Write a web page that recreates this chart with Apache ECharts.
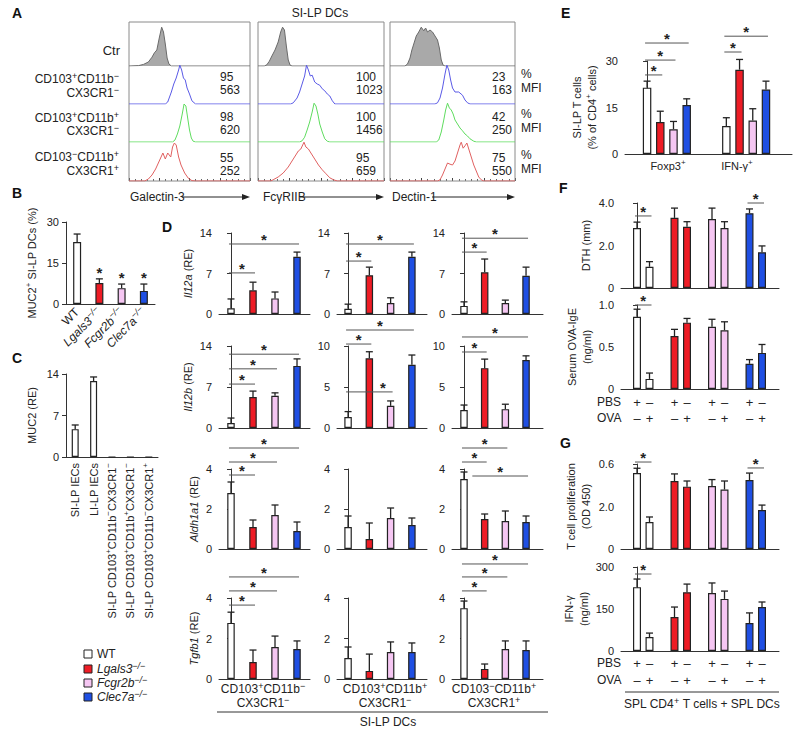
<!DOCTYPE html>
<html><head><meta charset="utf-8">
<script src="https://cdn.jsdelivr.net/npm/echarts@6/dist/echarts.min.js"></script>
<style>html,body{margin:0;padding:0;background:#fff}#c{width:800px;height:734px}</style>
</head><body><div id="c"></div>
<script>
// ================= DATA =================
const genotypes = ['WT', 'Lgals3', 'Fcgr2b', 'Clec7a'];
// Panel A: flow histograms, [x (0-100 across box), relative count]
const histGal3 = [
  [[0,0],[8,0.01],[12,0.04],[16,0.1],[19,0.22],[21,0.33],[23,0.4],[25,0.7],[27,0.97],[28.5,0.85],[30,0.55],[31.5,0.2],[33,0.05],[35,0],[100,0]],
  [[0,0],[30,0],[32,0.05],[35,0.3],[37,0.5],[39,0.65],[41,0.85],[42,0.97],[43.5,0.85],[45,0.65],[46.5,0.6],[48,0.4],[50,0.25],[52,0.08],[55,0],[100,0]],
  [[0,0],[36,0],[38,0.05],[40,0.2],[42,0.4],[44,0.7],[45.5,0.95],[47,0.9],[48.5,0.6],[50,0.3],[51.5,0.1],[53,0.02],[55,0],[100,0]],
  [[0,0],[13,0],[16,0.05],[19,0.15],[22,0.3],[25,0.5],[28,0.7],[30,0.55],[32,0.7],[34.5,0.6],[36,0.85],[37.5,0.95],[39,0.9],[41,0.6],[43,0.4],[46,0.2],[49,0.07],[52,0.01],[55,0],[100,0]]
];
const histFcgr = [
  [[0,0],[5,0],[7,0.03],[9,0.12],[11,0.25],[13.5,0.4],[16,0.6],[18,0.85],[19.5,0.97],[21,0.9],[22.5,0.5],[24,0.15],[25.5,0.02],[27,0],[100,0]],
  [[0,0],[26,0],[28,0.03],[31,0.15],[33,0.3],[35,0.5],[37,0.7],[38.5,0.97],[40,0.85],[41.5,0.7],[43,0.72],[45,0.55],[47,0.5],[49,0.47],[51,0.38],[53,0.33],[55,0.25],[57,0.2],[59,0.08],[61,0],[100,0]],
  [[0,0],[33,0],[35,0.03],[37,0.12],[39,0.3],[41,0.5],[43,0.75],[44.5,0.97],[46,0.9],[47.5,0.7],[49,0.45],[51,0.25],[53,0.08],[55,0.02],[57,0],[100,0]],
  [[0,0],[10,0],[12,0.03],[16,0.1],[20,0.2],[24,0.35],[27,0.5],[30,0.65],[32,0.75],[34,0.8],[36.5,0.97],[38,0.85],[40,0.8],[42,0.7],[44,0.6],[46,0.5],[48,0.4],[51,0.28],[54,0.18],[57,0.08],[60,0.03],[63,0],[100,0]]
];
const histDectin = [
  [[0,0],[12,0],[14,0.05],[16,0.2],[17.5,0.4],[19,0.55],[21,0.75],[23,0.85],[25,0.97],[27,0.88],[28.5,0.95],[30,0.85],[32,0.9],[34,0.85],[36,0.75],[38,0.65],[39.5,0.45],[41,0.15],[42.5,0.02],[44,0],[100,0]],
  [[0,0],[36,0],[38,0.03],[40,0.15],[42,0.4],[44,0.75],[45.5,0.97],[47,0.85],[48.5,0.6],[50,0.4],[52,0.3],[55,0.3],[58,0.22],[60,0.1],[62,0.03],[64,0],[100,0]],
  [[0,0],[37,0],[39,0.05],[41,0.25],[43,0.55],[44.5,0.8],[46,0.97],[47.5,0.85],[49,0.8],[50.5,0.7],[52,0.55],[54,0.45],[56,0.35],[58,0.28],[60,0.2],[62,0.15],[64,0.08],[67,0.02],[69,0],[100,0]],
  [[0,0],[38,0],[40,0.03],[42,0.15],[44,0.3],[46,0.45],[48,0.42],[50,0.4],[52,0.5],[54,0.7],[56,0.9],[57,0.97],[58.5,0.82],[60,0.88],[61.5,0.95],[63,0.8],[65,0.6],[67,0.4],[69,0.25],[71,0.1],[73,0.03],[75,0],[100,0]]
];
const aPercent = [[95, 100, 23], [98, 100, 42], [55, 95, 75]];
const aMFI = [[563, 1023, 163], [620, 1456, 250], [252, 659, 550]];
const aMarkers = ['Galectin-3', 'FcγRIIB', 'Dectin-1'];

// Panel B
const bCategories = ['{n|WT}', '{i|Lgals3}{is|−/−}', '{i|Fcgr2b}{is|−/−}', '{i|Clec7a}{is|−/−}'];
const bValues = [22.7, 7.7, 5.8, 4.8];
const bErrTop = [25.6, 9.2, 7.3, 7.3];
const bStars = [1, 2, 3];

// Panel C
const cCategories = ['{n|SI-LP IECs}', '{n|LI-LP IECs}',
  '{n|SI-LP CD103}{s|+}{n|CD11b}{s|−}{n|CX3CR1}{s|−}',
  '{n|SI-LP CD103}{s|+}{n|CD11b}{s|+}{n|CX3CR1}{s|−}',
  '{n|SI-LP CD103}{s|+}{n|CD11b}{s|−}{n|CX3CR1}{s|+}'];
const cValues = [4.7, 12.8, 0, 0, 0];
const cErrTop = [5.4, 13.5, 0, 0, 0];

// Panel D: [column][genotype]
const dIl12a = [[1.0, 4.1, 2.7, 9.9], [0.9, 6.7, 1.9, 9.9], [1.4, 7.2, 1.9, 6.6]];
const dIl12aTop = [[2.6, 5.5, 3.8, 10.7], [1.7, 8.1, 2.8, 10.7], [2.1, 9.5, 2.4, 8.1]];
const dIl12b = [[0.85, 5.3, 5.5, 10.6], [1.35, 8.5, 2.7, 7.7], [2.2, 7.3, 2.3, 8.3]];
const dIl12bTop = [[1.7, 6.3, 6.0, 11.8], [2.0, 9.3, 3.3, 8.9], [2.8, 8.4, 2.9, 8.8]];
const dAldh = [[2.8, 1.1, 1.7, 0.9], [1.1, 0.5, 1.55, 1.2], [3.5, 1.5, 1.4, 1.35]];
const dAldhTop = [[3.35, 1.45, 2.2, 1.35], [1.65, 1.3, 2.05, 1.55], [3.85, 1.75, 1.9, 1.65]];
const dTgfb = [[2.77, 0.84, 1.58, 1.48], [1.04, 0.4, 1.33, 1.33], [3.5, 0.5, 1.48, 1.43]];
const dTgfbTop = [[3.3, 1.43, 2.12, 1.88], [1.58, 1.23, 1.83, 1.78], [3.85, 0.74, 1.88, 1.88]];
// significance bars: [from, to, height, starX?]
const dIl12aSig = [[[0,1,7.1],[0,3,12.1]], [[0,1,9.15],[0,3,12.1]], [[0,1,10.7],[0,3,13.1]]];
const dIl12bSig = [[[0,1,7.5],[0,2,10.1],[0,3,12.6]], [[0,1,10.24],[0,2,4.4,1.64],[0,3,11.95]], [[0,1,9.27],[0,3,11.1]]];
const dAldhSig = [[[0,1,3.7],[0,2,4.35],[0,3,5.05]], [], [[0,1,4.35],[0,2,5.05],[0.5,3.2,3.65]]];
const dTgfbSig = [[[0,1,3.65],[0,2,4.35],[0,3,5.04]], [], [[0,1,4.35],[0,2,5.04],[0,3,5.68]]];
const dColumns = ['{n|CD103}{s|+}{n|CD11b}{s|−}\n{n|CX3CR1}{s|−}', '{n|CD103}{s|+}{n|CD11b}{s|+}\n{n|CX3CR1}{s|−}', '{n|CD103}{s|−}{n|CD11b}{s|+}\n{n|CX3CR1}{s|+}'];
const dGenes = ['Il12a', 'Il12b', 'Aldh1a1', 'Tgfb1'];

// Panel E: Foxp3+ then IFN-g+, genotypes in order
const eCategories = ['{n|Foxp3}{s|+}', '{n|IFN-γ}{s|+}'];
const eValues = [21.4, 10.3, 8.0, 15.8, 9.0, 27.2, 10.8, 20.8];
const eErrTop = [23.5, 13.8, 10.5, 17.8, 11.7, 30.5, 14.6, 23.5];
const eSig = [[0,1,25.5],[0,2,30.3],[0,3,35.8],[4,5,32.9],[4,7,38.0]];

// Panel F / G: per genotype PBS, OVA
const fPBS = ['+', '–', '+', '–', '+', '–', '+', '–'];
const fOVA = ['–', '+', '–', '+', '–', '+', '–', '+'];
const fDTH = [2.82, 1.0, 3.3, 2.88, 3.25, 2.82, 3.52, 1.68];
const fDTHTop = [3.1, 1.24, 3.76, 3.12, 3.76, 3.12, 3.72, 1.98];
const fDTHSig = [[0,1,3.39],[6,7,4.0]];
const fIgE = [0.86, 0.12, 0.63, 0.79, 0.74, 0.70, 0.30, 0.43];
const fIgETop = [0.95, 0.19, 0.71, 0.84, 0.83, 0.80, 0.35, 0.53];
const fIgESig = [[0,1,1.0]];
const gProlif = [0.536, 0.19, 0.48, 0.44, 0.445, 0.42, 0.487, 0.275];
const gProlifTop = [0.57, 0.226, 0.53, 0.48, 0.49, 0.48, 0.536, 0.31];
const gProlifSig = [[0,1,0.614],[6,7,0.572]];
const gProlifTicks = ['0', '2.0', '0.6'];
const gIFN = [228, 50, 121, 210, 207, 186, 100, 157];
const gIFNTop = [257, 64, 157, 239, 243, 214, 136, 175];
const gIFNSig = [[0,1,275]];

// ================= STYLE / LAYOUT =================
const FF = '"Liberation Sans", Arial, Helvetica, sans-serif';
const INK = '#222';
const GCOL = ['#ffffff', '#ee1c25', '#f5c6f2', '#1f4fe3'];
const R = fs => {
  const ss = Math.round(fs * 0.72);
  return {
    n: {fontSize: fs, fontFamily: FF, lineHeight: fs + 4, color: INK},
    i: {fontSize: fs, fontFamily: FF, fontStyle: 'italic', lineHeight: fs + 4, color: INK},
    s: {fontSize: ss, fontFamily: FF, verticalAlign: 'top', lineHeight: ss + 1, color: INK},
    is: {fontSize: ss, fontFamily: FF, fontStyle: 'italic', verticalAlign: 'top', lineHeight: ss + 1, color: INK}
  };
};

const grids = [], xAxes = [], yAxes = [], series = [], graphics = [];
function addGrid(g, xa, ya) {
  g.outerBoundsMode = 'none';
  grids.push(g);
  const i = grids.length - 1;
  xa.gridIndex = i; ya.gridIndex = i;
  xAxes.push(xa); yAxes.push(ya);
  return i;
}
function T(text, x, y, o) {
  o = o || {};
  const fs = o.fs || 12, al = o.align || 'left';
  return {type: 'text', x: x, y: y, silent: true, z: 20, rotation: o.rot || 0,
    style: {text: text, x: 0, y: 0, fontSize: fs, fontFamily: FF, fontWeight: o.fw || 'normal',
      fill: INK, align: al, textAlign: al, verticalAlign: 'middle', textVerticalAlign: 'middle', rich: R(fs)}};
}
function L(x1, y1, x2, y2, c, w) {
  return {type: 'line', silent: true, z: 20, shape: {x1, y1, x2, y2}, style: {stroke: c || '#333', lineWidth: w || 1}};
}

// ---------- Panel A ----------
const boxes = [{left: 129, width: 121}, {left: 258, width: 126}, {left: 390, width: 125}];
const rowBottoms = [66, 104, 142, 181];
const histColors = ['#777777', '#5a5ae6', '#5fdc5f', '#e06060'];
const histSets = [histGal3, histFcgr, histDectin];
boxes.forEach((bx, b) => {
  graphics.push({type: 'rect', silent: true, z: 1, shape: {x: bx.left, y: 22, width: bx.width, height: 159},
    style: {fill: 'none', stroke: '#8a8a8a', lineWidth: 1}});
  rowBottoms.forEach((bot, r) => {
    const last = r === 3;
    const idx = addGrid({left: bx.left, top: bot - 40, width: bx.width, height: 40},
      {type: 'value', min: 0, max: 100, interval: 25, show: last,
        axisLine: {show: false}, axisLabel: {show: false}, splitLine: {show: false},
        axisTick: {show: true, inside: true, length: 3, lineStyle: {color: '#444'}},
        minorTick: {show: true, splitNumber: 5, length: 2, lineStyle: {color: '#666'}}},
      {type: 'value', min: 0, max: 1, show: false});
    const s = {type: 'line', xAxisIndex: idx, yAxisIndex: idx, data: histSets[b][r], symbol: 'none',
      showSymbol: false, silent: true, lineStyle: {color: histColors[r], width: 1}, z: 5};
    if (r === 0) { s.areaStyle = {color: '#a9a9a9', opacity: 1}; s.lineStyle = {color: '#6a6a6a', width: 1}; }
    series.push(s);
  });
});
graphics.push(T('SI-LP DCs', 320, 13, {align: 'center'}));
graphics.push(T('Ctr', 120, 50, {align: 'right', fs: 13}));
const aRows = [
  ['{n|CD103}{s|+}{n|CD11b}{s|−}', '{n|CX3CR1}{s|−}'],
  ['{n|CD103}{s|+}{n|CD11b}{s|+}', '{n|CX3CR1}{s|−}'],
  ['{n|CD103}{s|−}{n|CD11b}{s|+}', '{n|CX3CR1}{s|+}']];
const aRowY = [[79, 93], [118, 131], [157, 171]];
aRows.forEach((rw, r) => {
  graphics.push(T(rw[0], 119, aRowY[r][0], {align: 'right'}));
  graphics.push(T(rw[1], 119, aRowY[r][1], {align: 'right'}));
});
const numX = [220, 356, 492];
const numY = [[77, 90], [117, 130], [158, 171]];
for (let r = 0; r < 3; r++) {
  for (let b = 0; b < 3; b++) {
    graphics.push(T('{n|' + aPercent[r][b] + '}', numX[b], numY[r][0]));
    graphics.push(T('{n|' + aMFI[r][b] + '}', numX[b], numY[r][1]));
  }
  graphics.push(T('{n|%}', 521, numY[r][0] - 3));
  graphics.push(T('{n|MFI}', 521, numY[r][1] - 2));
}
const markerX = [[130, 182, 250], [263, 300, 384], [392, 432, 515]];
aMarkers.forEach((m, b) => {
  const mx = markerX[b];
  graphics.push(T('{n|' + m + '}', mx[0], 197));
  graphics.push(L(mx[1], 197, mx[2] - 6, 197, '#222', 1));
  graphics.push({type: 'polygon', silent: true, z: 20, shape: {points: [[mx[2] - 8, 194], [mx[2], 197], [mx[2] - 8, 200]]}, style: {fill: '#222'}});
});

// ---------- helpers for bar panels ----------
function errSeries(idx, xs, vals, tops, cap) {
  cap = cap || 3.5;
  return {type: 'custom', xAxisIndex: idx, yAxisIndex: idx, clip: false, silent: true, z: 6,
    data: xs.map((x, i) => [x, vals[i], tops[i]]),
    renderItem: (p, api) => {
      const v = api.value(1), t = api.value(2);
      if (!(t > v)) return null;
      const a = api.coord([api.value(0), v]), b = api.coord([api.value(0), t]);
      return {type: 'group', children: [
        {type: 'line', shape: {x1: a[0], y1: a[1], x2: b[0], y2: b[1]}, style: {stroke: '#222', lineWidth: 1.3}},
        {type: 'line', shape: {x1: b[0] - cap, y1: b[1], x2: b[0] + cap, y2: b[1]}, style: {stroke: '#222', lineWidth: 1.3}}]};
    }};
}
function sigSeries(idx, sig, xs) {
  const pos = k => {
    const f = Math.floor(k), c = Math.min(Math.ceil(k), xs.length - 1);
    return xs[f] + (xs[c] - xs[f]) * (k - f);
  };
  return {type: 'custom', xAxisIndex: idx, yAxisIndex: idx, clip: false, silent: true, z: 7,
    data: sig.map(s => [pos(s[0]), pos(s[1]), s[2], s.length > 3 ? pos(s[3]) : (pos(s[0]) + pos(s[1])) / 2]),
    renderItem: (p, api) => {
      const y = api.value(2);
      const a = api.coord([api.value(0), y]), b = api.coord([api.value(1), y]), c = api.coord([api.value(3), y]);
      return {type: 'group', children: [
        {type: 'line', shape: {x1: a[0] - 2, y1: a[1], x2: b[0] + 2, y2: b[1]}, style: {stroke: '#555', lineWidth: 1}},
        {type: 'text', style: {text: '*', x: c[0], y: a[1] + 3, align: 'center', verticalAlign: 'bottom',
          fontSize: 15, fontFamily: FF, fontWeight: 'bold', fill: '#222'}}]};
    }};
}
function yAxisCfg(o) {
  return {type: 'value', min: 0, max: o.ymax, interval: o.yint,
    axisLine: {show: true, lineStyle: {color: '#333', width: 1}},
    axisTick: {show: true, length: 4, lineStyle: {color: '#333'}},
    axisLabel: {fontSize: 11, fontFamily: FF, color: INK, margin: 7, formatter: o.yfmt},
    splitLine: {show: false},
    name: o.yName || '', nameLocation: 'middle', nameRotate: 90, nameGap: o.nameGap || 20,
    nameTextStyle: {fontSize: 11, fontFamily: FF, color: INK, lineHeight: 14, rich: R(11)}};
}
function barPanel(o) {
  const idx = addGrid({left: o.left, top: o.top, width: o.width, height: o.height},
    {type: 'value', min: o.xmin, max: o.xmax,
      axisLine: {show: true, onZero: true, lineStyle: {color: '#333', width: 1}},
      axisTick: {show: false}, axisLabel: {show: false}, splitLine: {show: false}},
    yAxisCfg(o));
  series.push({type: 'bar', xAxisIndex: idx, yAxisIndex: idx, barWidth: o.barW, silent: true, z: 4,
    data: o.vals.map((v, i) => ({value: [o.xs[i], v], itemStyle: {color: o.colors[i]}})),
    itemStyle: {borderColor: '#222', borderWidth: 1.2}});
  series.push(errSeries(idx, o.xs, o.vals, o.tops));
  if (o.sig && o.sig.length) series.push(sigSeries(idx, o.sig, o.xs));
  return idx;
}
function catBarPanel(o) {
  const idx = addGrid({left: o.left, top: o.top, width: o.width, height: o.height},
    {type: 'category', data: o.cats,
      axisLine: {show: true, lineStyle: {color: '#333', width: 1}}, axisTick: {show: false},
      axisLabel: {interval: 0, rotate: o.rot, margin: 6, fontSize: o.lfs, fontFamily: FF, color: INK, rich: R(o.lfs)}},
    yAxisCfg(o));
  series.push({type: 'bar', xAxisIndex: idx, yAxisIndex: idx, barWidth: o.barW, silent: true, z: 4,
    data: o.vals.map((v, i) => ({value: v, itemStyle: {color: o.colors[i]}})),
    itemStyle: {borderColor: '#222', borderWidth: 1.2}});
  series.push(errSeries(idx, o.vals.map((v, i) => i), o.vals, o.tops));
  return idx;
}

// ---------- Panel B ----------
const bIdx = catBarPanel({left: 66, top: 222, width: 89, height: 82, cats: bCategories, rot: 45, lfs: 12,
  vals: bValues, tops: bErrTop, colors: GCOL, barW: 8, ymax: 30, yint: 15,
  yName: '{n|MUC2}{s|+}{n| SI-LP DCs (%)}', nameGap: 27});
series.push({type: 'custom', xAxisIndex: bIdx, yAxisIndex: bIdx, clip: false, silent: true, z: 7,
  data: bStars.map(i => [i, bErrTop[i]]),
  renderItem: (p, api) => {
    const c = api.coord([api.value(0), api.value(1)]);
    return {type: 'text', style: {text: '*', x: c[0], y: c[1] + 1, align: 'center', verticalAlign: 'bottom',
      fontSize: 15, fontFamily: FF, fontWeight: 'bold', fill: '#222'}};
  }});

// ---------- Panel C ----------
catBarPanel({left: 66, top: 374, width: 92, height: 83, cats: cCategories, rot: 90, lfs: 11,
  vals: cValues, tops: cErrTop, colors: ['#fff', '#fff', '#fff', '#fff', '#fff'], barW: 7, ymax: 14, yint: 7,
  yName: '{n|MUC2 (RE)}', nameGap: 27});

// ---------- Panel D ----------
const dCols = [{left: 219, width: 91, xmin: -0.545, xmax: 3.59}, {left: 337, width: 90, xmin: -0.52, xmax: 3.71},
  {left: 452, width: 91, xmin: -0.58, xmax: 3.82}];
const dRows = [{top: 233, height: 81}, {top: 346, height: 82}, {top: 469, height: 80}, {top: 598, height: 81}];
const dScale = [[14, 14, 14], [14, 10, 10], [4, 4, 4], [4, 4, 4]];
const dVals = [dIl12a, dIl12b, dAldh, dTgfb];
const dTops = [dIl12aTop, dIl12bTop, dAldhTop, dTgfbTop];
const dSigs = [dIl12aSig, dIl12bSig, dAldhSig, dTgfbSig];
const slots4 = [0, 1, 2, 3];
dRows.forEach((rw, r) => {
  dCols.forEach((cl, c) => {
    const ym = dScale[r][c];
    barPanel({left: cl.left, width: cl.width, top: rw.top, height: rw.height, xmin: cl.xmin, xmax: cl.xmax,
      xs: slots4, vals: dVals[r][c], tops: dTops[r][c], colors: GCOL, barW: 7.5,
      ymax: ym, yint: ym / 2, sig: dSigs[r][c],
      yName: c === 0 ? '{i|' + dGenes[r] + '}{n| (RE)}' : '', nameGap: 18});
  });
});
const dColCenters = [263, 385, 494];
dColumns.forEach((t, c) => {
  const parts = t.split('\n');
  graphics.push(T(parts[0], dColCenters[c], 689, {align: 'center'}));
  graphics.push(T(parts[1], dColCenters[c], 703, {align: 'center'}));
});
graphics.push(L(217, 712, 548, 712, '#333', 1));
graphics.push(T('{n|SI-LP DCs}', 388, 722, {align: 'center'}));

// ---------- Panel E ----------
const eSlots = [0, 1, 2, 3, 6, 7, 8, 9];
barPanel({left: 625, top: 61, width: 167, height: 93, xmin: -1.67, xmax: 10.97, xs: eSlots,
  vals: eValues, tops: eErrTop, colors: GCOL.concat(GCOL), barW: 8.5, ymax: 30, yint: 15, sig: eSig,
  yName: '{n|SI-LP T cells}\n{n|(% of CD4}{s|+}{n| cells)}', nameGap: 26});
graphics.push(T(eCategories[0], 668, 166, {align: 'center', fs: 11}));
graphics.push(T(eCategories[1], 737, 166, {align: 'center', fs: 11}));

// ---------- Panels F, G ----------
const fgSlots = [0, 1, 3, 4, 6, 7, 9, 10];
const fgCols = [GCOL[0], GCOL[0], GCOL[1], GCOL[1], GCOL[2], GCOL[2], GCOL[3], GCOL[3]];
const fmt1 = v => v === 0 ? '0' : v.toFixed(1);
const fgBase = {left: 621, width: 158, xmin: -1.28, xmax: 11.36, xs: fgSlots, colors: fgCols, barW: 8};
barPanel(Object.assign({}, fgBase, {top: 203, height: 85, vals: fDTH, tops: fDTHTop, sig: fDTHSig,
  ymax: 4, yint: 2, yfmt: fmt1, yName: '{n|DTH (mm)}', nameGap: 28}));
const igeIdx = barPanel(Object.assign({}, fgBase, {top: 305, height: 84, vals: fIgE, tops: fIgETop, sig: fIgESig,
  ymax: 1, yint: 0.5, yfmt: fmt1, yName: '{n|Serum OVA-IgE}\n{n|(ng/ml)}', nameGap: 27}));
barPanel(Object.assign({}, fgBase, {top: 464, height: 85, vals: gProlif, tops: gProlifTop, sig: gProlifSig,
  ymax: 0.6, yint: 0.3, yfmt: v => gProlifTicks[Math.round(v / 0.3)],
  yName: '{n|T cell proliferation}\n{n|(OD 450)}', nameGap: 28}));
const gifnIdx = barPanel(Object.assign({}, fgBase, {top: 567, height: 84, vals: gIFN, tops: gIFNTop, sig: gIFNSig,
  ymax: 300, yint: 150, yName: '{n|IFN-γ}\n{n|(ng/ml)}', nameGap: 28}));
function pmSeries(idx, d1, d2) {
  return {type: 'custom', xAxisIndex: idx, yAxisIndex: idx, clip: false, silent: true,
    data: fgSlots.map((x, i) => [x, 0, i]),
    renderItem: (p, api) => {
      const c = api.coord([api.value(0), 0]), i = api.value(2);
      const st = (t, dy) => ({type: 'text', style: {text: t, x: c[0], y: c[1] + dy, align: 'center', verticalAlign: 'middle',
        fontSize: 13, fontFamily: FF, fill: INK}});
      return {type: 'group', children: [st(fPBS[i], d1), st(fOVA[i], d2)]};
    }};
}
series.push(pmSeries(igeIdx, 13, 29));
series.push(pmSeries(gifnIdx, 12, 29));
graphics.push(T('{n|PBS}', 597, 402));
graphics.push(T('{n|OVA}', 597, 418));
graphics.push(T('{n|PBS}', 597, 663));
graphics.push(T('{n|OVA}', 597, 680));
graphics.push(L(625, 692, 779, 692, '#333', 1));
graphics.push(T('{n|SPL CD4}{s|+}{n| T cells + SPL DCs}', 702, 704, {align: 'center'}));

// ---------- Legend ----------
const legendY = [654, 669, 683, 697];
const legendNames = ['{n|WT}', '{i|Lgals3}{is|−/−}', '{i|Fcgr2b}{is|−/−}', '{i|Clec7a}{is|−/−}'];
genotypes.forEach((g, i) => {
  graphics.push({type: 'rect', silent: true, z: 20, shape: {x: 84, y: legendY[i] - 4, width: 8, height: 8},
    style: {fill: GCOL[i], stroke: '#222', lineWidth: 1}});
  graphics.push(T(legendNames[i], 97, legendY[i]));
});

// ---------- Panel letters ----------
[['A', 12, 13], ['B', 12, 193], ['C', 12, 358], ['D', 162, 227], ['E', 561, 13], ['F', 559, 188], ['G', 560, 443]]
  .forEach(l => graphics.push({type: 'text', x: l[1], y: l[2], silent: true, z: 20,
    style: {text: l[0], x: 0, y: 0, fontSize: 14, fontWeight: 'bold', fontFamily: FF, fill: '#111',
      align: 'left', textAlign: 'left', verticalAlign: 'middle', textVerticalAlign: 'middle'}}));

const chart = echarts.init(document.getElementById('c'), null, {renderer: 'svg', width: 800, height: 734});
chart.setOption({
  backgroundColor: '#ffffff',
  animation: false,
  textStyle: {fontFamily: FF},
  grid: grids, xAxis: xAxes, yAxis: yAxes, series: series,
  graphic: {elements: graphics}
});
</script></body></html>
